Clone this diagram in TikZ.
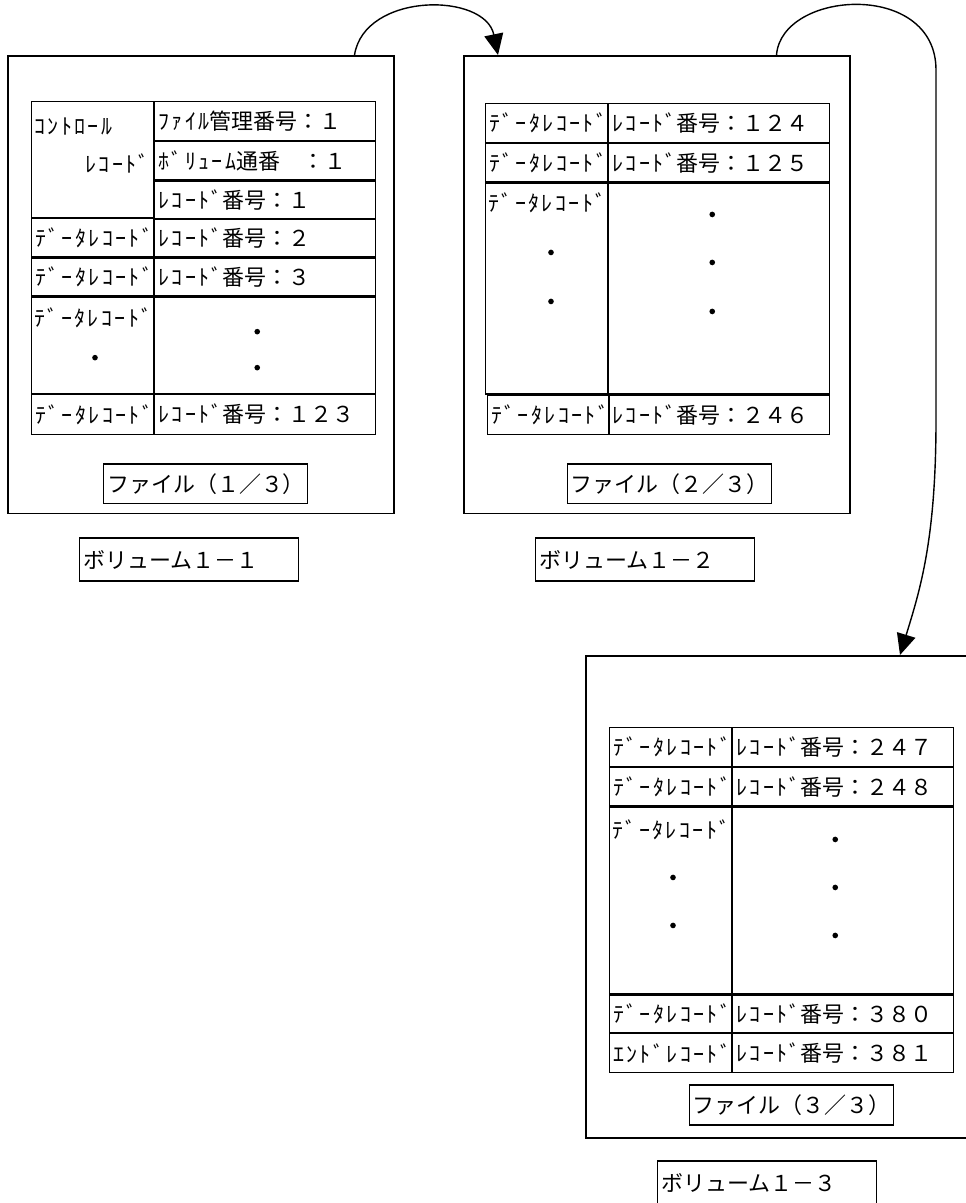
\documentclass[tikz,border=0pt]{standalone}
\usepackage{fontspec}
\setmainfont{Noto Sans CJK JP}
\newfontfamily\hkfont[LetterSpace=11]{Noto Sans CJK JP}
\usepackage{tikz}
\usetikzlibrary{positioning,calc,arrows.meta}

\tikzset{
  volbox/.style={draw,line width=0.9pt,anchor=north west,minimum width=7.72cm,minimum height=#1},
  volbox/.default=9.16cm,
  lcell/.style={draw,line width=0.7pt,anchor=north west,inner xsep=2pt,inner ysep=0pt,text width=2.3cm,align=left,minimum height=#1},
  lcell/.default=0.76cm,
  rcell/.style={draw,line width=0.7pt,anchor=north west,inner xsep=2pt,inner ysep=0pt,text width=4.28cm,align=left,minimum height=#1},
  rcell/.default=0.76cm,
  filetag/.style={draw,line width=0.7pt,inner xsep=2pt,text width=3.94cm,align=left,minimum height=0.8cm},
  voltag/.style={draw,line width=0.7pt,inner xsep=2pt,text width=4.24cm,align=left,minimum height=0.86cm},
  dotmark/.style={circle,fill,inner sep=0pt,minimum size=3.2pt}
}

\begin{document}
\begin{tikzpicture}[x=0.02cm,y=-0.02cm,>={Triangle[length=4.2mm,width=3.8mm]},
  font=\fontsize{12.5pt}{15pt}\selectfont]
\useasboundingbox (0,0) rectangle (966,1203);

% volumes
\node[volbox] (vol1) at (7,55) {};
\node[volbox] (vol2) at (463,55) {};
\node[volbox=9.64cm] (vol3) at (585,655) {};

% volume 1-1
\node[lcell=2.32cm] (ctrl) at (31,101) {};
\node[anchor=west,inner sep=0pt] (ctrlA) at ($(ctrl.north west)+(3,26)$) {\hkfont ｺﾝﾄﾛｰﾙ};
\node[anchor=east,inner sep=0pt] (ctrlB) at ($(ctrl.north east)+(-4,62)$) {\hkfont ﾚｺｰﾄﾞ};
\node[rcell=0.78cm] (fno) at (ctrl.north east) {{\hkfont ﾌｧｲﾙ}管理番号：１};
\node[rcell] (vno) at (fno.south west) {{\hkfont ﾎﾞﾘｭｰﾑ}通番　：１};
\node[rcell] (rno1) at (vno.south west) {{\hkfont ﾚｺｰﾄﾞ}番号：１};
\node[lcell] (da2) at (ctrl.south west) {\hkfont ﾃﾞｰﾀﾚｺｰﾄﾞ};
\node[rcell] (rn2) at (da2.north east) {{\hkfont ﾚｺｰﾄﾞ}番号：２};
\node[lcell] (da3) at (da2.south west) {\hkfont ﾃﾞｰﾀﾚｺｰﾄﾞ};
\node[rcell] (rn3) at (da3.north east) {{\hkfont ﾚｺｰﾄﾞ}番号：３};
\node[lcell=1.92cm] (dam1) at (da3.south west) {};
\node[rcell=1.92cm] (rnm1) at (dam1.north east) {};
\node[lcell=0.8cm] (da123) at (dam1.south west) {\hkfont ﾃﾞｰﾀﾚｺｰﾄﾞ};
\node[rcell=0.8cm] (rn123) at (da123.north east) {{\hkfont ﾚｺｰﾄﾞ}番号：１２３};
\node[anchor=west,inner sep=0pt] (dam1t) at ($(dam1.north west)+(3,21)$) {\hkfont ﾃﾞｰﾀﾚｺｰﾄﾞ};
\node[dotmark] (p1a) at ($(dam1.north west)+(64,61)$) {};
\node[dotmark] (q1a) at ($(rnm1.north west)+(103,35)$) {};
\node[dotmark] (q1b) at ($(rnm1.north west)+(103,71)$) {};

% volume 1-2
\node[lcell=0.78cm] (da124) at (485,103) {\hkfont ﾃﾞｰﾀﾚｺｰﾄﾞ};
\node[rcell=0.78cm] (rn124) at (da124.north east) {{\hkfont ﾚｺｰﾄﾞ}番号：１２４};
\node[lcell] (da125) at (da124.south west) {\hkfont ﾃﾞｰﾀﾚｺｰﾄﾞ};
\node[rcell] (rn125) at (da125.north east) {{\hkfont ﾚｺｰﾄﾞ}番号：１２５};
\node[lcell=4.22cm] (dam2) at (da125.south west) {};
\node[rcell=4.22cm] (rnm2) at (dam2.north east) {};
\node[lcell=0.78cm] (da246) at ($(dam2.south west)+(2,0)$) {\hkfont ﾃﾞｰﾀﾚｺｰﾄﾞ};
\node[rcell=0.78cm] (rn246) at (rnm2.south west) {{\hkfont ﾚｺｰﾄﾞ}番号：２４６};
\node[anchor=west,inner sep=0pt] (dam2t) at ($(dam2.north west)+(3,20)$) {\hkfont ﾃﾞｰﾀﾚｺｰﾄﾞ};
\node[dotmark] (p2a) at ($(dam2.north west)+(66,70)$) {};
\node[dotmark] (p2b) at ($(dam2.north west)+(66,119)$) {};
\node[dotmark] (q2a) at ($(rnm2.north west)+(104,32)$) {};
\node[dotmark] (q2b) at ($(rnm2.north west)+(104,80)$) {};
\node[dotmark] (q2c) at ($(rnm2.north west)+(104,129)$) {};

% volume 1-3
\node[lcell=0.78cm] (da247) at (609,727) {\hkfont ﾃﾞｰﾀﾚｺｰﾄﾞ};
\node[rcell=0.78cm] (rn247) at (da247.north east) {{\hkfont ﾚｺｰﾄﾞ}番号：２４７};
\node[lcell] (da248) at (da247.south west) {\hkfont ﾃﾞｰﾀﾚｺｰﾄﾞ};
\node[rcell] (rn248) at (da248.north east) {{\hkfont ﾚｺｰﾄﾞ}番号：２４８};
\node[lcell=3.74cm] (dam3) at (da248.south west) {};
\node[rcell=3.74cm] (rnm3) at (dam3.north east) {};
\node[lcell=0.74cm] (da380) at (dam3.south west) {\hkfont ﾃﾞｰﾀﾚｺｰﾄﾞ};
\node[rcell=0.74cm] (rn380) at (da380.north east) {{\hkfont ﾚｺｰﾄﾞ}番号：３８０};
\node[lcell=0.78cm] (en381) at (da380.south west) {\hkfont ｴﾝﾄﾞﾚｺｰﾄﾞ};
\node[rcell=0.78cm] (rn381) at (en381.north east) {{\hkfont ﾚｺｰﾄﾞ}番号：３８１};
\node[anchor=west,inner sep=0pt] (dam3t) at ($(dam3.north west)+(3,23)$) {\hkfont ﾃﾞｰﾀﾚｺｰﾄﾞ};
\node[dotmark] (p3a) at ($(dam3.north west)+(64,71)$) {};
\node[dotmark] (p3b) at ($(dam3.north west)+(64,119)$) {};
\node[dotmark] (q3a) at ($(rnm3.north west)+(103,33)$) {};
\node[dotmark] (q3b) at ($(rnm3.north west)+(103,81)$) {};
\node[dotmark] (q3c) at ($(rnm3.north west)+(103,129)$) {};

% file and volume tags
\node[filetag,above=0.2cm of vol1.south,xshift=0.1cm] (file1) {ファイル（１／３）};
\node[filetag,above=0.2cm of vol2.south,xshift=0.25cm] (file2) {ファイル（２／３）};
\node[filetag,above=0.26cm of vol3.south,xshift=0.25cm] (file3) {ファイル（３／３）};
\node[voltag,below=0.46cm of vol1.south,xshift=-0.23cm] (tag1) {ボリューム１－１};
\node[voltag,below=0.46cm of vol2.south,xshift=-0.23cm] (tag2) {ボリューム１－２};
\node[voltag,below=0.44cm of vol3.south,xshift=-0.23cm] (tag3) {ボリューム１－３};

% continuation arrows
\draw[->,line width=0.8pt] ($(vol1.north east)+(-40,0)$) .. controls +(10,-63) and +(-13,-63) .. ($(vol2.north west)+(35,0)$);
\draw[->,line width=0.8pt] ($(vol2.north east)+(-74,0)$) .. controls +(5,-65) and (936,-20) .. (936,70)
  -- (936,420) .. controls (936,540) and (920,590) .. ($(vol3.north west)+(315,0)$);
\end{tikzpicture}
\end{document}
